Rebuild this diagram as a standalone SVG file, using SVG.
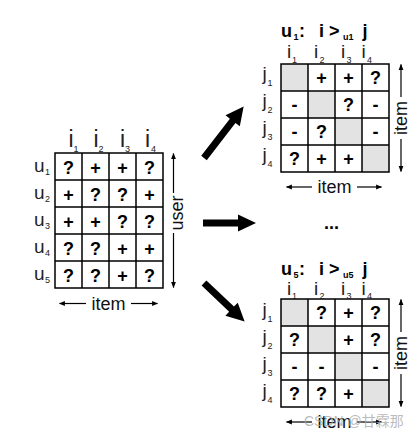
<svg xmlns="http://www.w3.org/2000/svg" width="418" height="437" viewBox="0 0 418 437">
<defs>
<style>
.grid{fill:none;stroke:#000;stroke-width:1.5}
.gray{fill:#e3e3e3}
.c{font-family:"Liberation Sans",Arial,sans-serif;font-weight:bold;font-size:18px;text-anchor:middle;fill:#000}
.lab{font-family:"Liberation Sans",Arial,sans-serif;font-size:19px;fill:#222}
.labt{font-family:"Liberation Sans",Arial,sans-serif;font-size:23px;fill:#222}
.sub{font-family:"Liberation Sans",Arial,sans-serif;font-size:9px;fill:#222}
.ttl{font-family:"Liberation Sans",Arial,sans-serif;font-weight:bold;font-size:18px;fill:#000}
.tsub{font-family:"Liberation Sans",Arial,sans-serif;font-weight:bold;font-size:9px;fill:#000}
.ax{font-family:"Liberation Sans",Arial,sans-serif;font-size:18px;fill:#111;text-anchor:middle}
.aline{stroke:#000;stroke-width:1.2;fill:none;marker-end:url(#ah)}
.big{fill:#000}
.wm{font-family:"Liberation Sans","Noto Sans CJK SC",sans-serif;font-size:14px;fill:#aaa;fill-opacity:0.8}
</style>
<marker id="ah" viewBox="0 0 10 10" refX="9" refY="5" markerWidth="6" markerHeight="6" markerUnits="userSpaceOnUse" orient="auto">
<path d="M0,1 L10,5 L0,9 z" fill="#000"/>
</marker>
</defs>

<!-- Left matrix: user x item -->
<g id="matrix-user-item">
<path class="grid" d="M55,153H163V288H55Z M82,153V288 M109,153V288 M136,153V288 M55,180H163 M55,207H163 M55,234H163 M55,261H163"/>
<g class="c">
<text x="68.5" y="173.5">?</text><text x="95.5" y="173.5">+</text><text x="122.5" y="173.5">+</text><text x="149.5" y="173.5">?</text>
<text x="68.5" y="200.5">+</text><text x="95.5" y="200.5">?</text><text x="122.5" y="200.5">?</text><text x="149.5" y="200.5">+</text>
<text x="68.5" y="227.5">+</text><text x="95.5" y="227.5">+</text><text x="122.5" y="227.5">?</text><text x="149.5" y="227.5">?</text>
<text x="68.5" y="254.5">?</text><text x="95.5" y="254.5">?</text><text x="122.5" y="254.5">+</text><text x="149.5" y="254.5">+</text>
<text x="68.5" y="281.5">?</text><text x="95.5" y="281.5">?</text><text x="122.5" y="281.5">+</text><text x="149.5" y="281.5">?</text>
</g>
<g class="labt">
<text x="68.5" y="147">i</text>
<text x="93.5" y="147">i</text>
<text x="120" y="147">i</text>
<text x="145" y="147">i</text>
</g>
<g class="lab">
<text x="34" y="172">u</text>
<text x="34" y="199">u</text>
<text x="34" y="226">u</text>
<text x="34" y="253">u</text>
<text x="34" y="280">u</text>
</g>
<g class="sub">
<text x="73.5" y="151.5">1</text><text x="98.5" y="151.5">2</text><text x="125" y="151.5">3</text><text x="151" y="151.5">4</text>
<text x="45" y="175">1</text><text x="45" y="202">2</text><text x="45" y="229">3</text><text x="45" y="256">4</text><text x="45" y="283">5</text>
</g>
<text class="ax" transform="translate(183,213) rotate(-90)">user</text>
<path class="aline" d="M173.5,193V153.5"/>
<path class="aline" d="M173.5,233V287.5"/>
<text class="ax" x="108.5" y="310">item</text>
<path class="aline" d="M86,303.5H59.5"/>
<path class="aline" d="M131,303.5H157.5"/>
</g>

<!-- Top right matrix u1 -->
<g id="matrix-u1">
<rect class="gray" x="281" y="64" width="27" height="27"/>
<rect class="gray" x="308" y="91" width="27" height="27"/>
<rect class="gray" x="335" y="118" width="27" height="27"/>
<rect class="gray" x="362" y="145" width="27" height="27"/>
<path class="grid" d="M281,64H389V172H281Z M308,64V172 M335,64V172 M362,64V172 M281,91H389 M281,118H389 M281,145H389"/>
<g class="c">
<text x="321.5" y="84">+</text><text x="348.5" y="84">+</text><text x="375.5" y="84">?</text>
<text x="294.5" y="111">-</text><text x="348.5" y="111">?</text><text x="375.5" y="111">-</text>
<text x="294.5" y="138">-</text><text x="321.5" y="138">?</text><text x="375.5" y="138">-</text>
<text x="294.5" y="165">?</text><text x="321.5" y="165">+</text><text x="348.5" y="165">+</text>
</g>
<text class="ttl" x="281" y="37">u</text><text class="tsub" x="293.5" y="40">1</text><text class="ttl" x="299" y="37">:</text>
<text class="ttl" x="319" y="37">i</text><text class="ttl" x="329" y="37">&gt;</text><text class="tsub" x="343" y="40">u1</text><text class="ttl" x="362.5" y="37">j</text>
<g class="lab">
<text x="287" y="58">i</text>
<text x="314" y="58">i</text>
<text x="341" y="58">i</text>
<text x="361.5" y="58">i</text>
<text x="262.5" y="80">j</text>
<text x="262.5" y="107">j</text>
<text x="262.5" y="134">j</text>
<text x="262.5" y="161">j</text>
</g>
<g class="sub">
<text x="292" y="62.5">1</text><text x="319.5" y="62.5">2</text><text x="346.5" y="62.5">3</text><text x="367" y="62.5">4</text>
<text x="267.5" y="86">1</text><text x="267.5" y="113">2</text><text x="267.5" y="140">3</text><text x="267.5" y="167">4</text>
</g>
<text class="ax" transform="translate(407,118) rotate(-90)">item</text>
<path class="aline" d="M401,97V64.5"/>
<path class="aline" d="M401,139V171.5"/>
<text class="ax" x="334.5" y="193">item</text>
<path class="aline" d="M312,187H286.5"/>
<path class="aline" d="M357,187H381.5"/>
</g>

<text id="ellipsis" class="ttl" x="331.5" y="229" text-anchor="middle" font-size="17">...</text>

<!-- Bottom right matrix u5 -->
<g id="matrix-u5">
<rect class="gray" x="281" y="299" width="27" height="27"/>
<rect class="gray" x="308" y="326" width="27" height="27"/>
<rect class="gray" x="335" y="353" width="27" height="27"/>
<rect class="gray" x="362" y="380" width="27" height="27"/>
<path class="grid" d="M281,299H389V407H281Z M308,299V407 M335,299V407 M362,299V407 M281,326H389 M281,353H389 M281,380H389"/>
<g class="c">
<text x="321.5" y="319">?</text><text x="348.5" y="319">+</text><text x="375.5" y="319">?</text>
<text x="294.5" y="346">?</text><text x="348.5" y="346">+</text><text x="375.5" y="346">?</text>
<text x="294.5" y="373">-</text><text x="321.5" y="373">-</text><text x="375.5" y="373">-</text>
<text x="294.5" y="400">?</text><text x="321.5" y="400">?</text><text x="348.5" y="400">+</text>
</g>
<text class="ttl" x="281" y="275">u</text><text class="tsub" x="293.5" y="278">5</text><text class="ttl" x="299" y="275">:</text>
<text class="ttl" x="319" y="275">i</text><text class="ttl" x="329" y="275">&gt;</text><text class="tsub" x="343" y="278">u5</text><text class="ttl" x="362.5" y="275">j</text>
<g class="lab">
<text x="287" y="295">i</text>
<text x="314" y="295">i</text>
<text x="341" y="295">i</text>
<text x="361.5" y="295">i</text>
<text x="262.5" y="316">j</text>
<text x="262.5" y="343">j</text>
<text x="262.5" y="370">j</text>
<text x="262.5" y="397">j</text>
</g>
<g class="sub">
<text x="292" y="299">1</text><text x="319.5" y="299">2</text><text x="346.5" y="299">3</text><text x="367" y="299">4</text>
<text x="267.5" y="322">1</text><text x="267.5" y="349">2</text><text x="267.5" y="376">3</text><text x="267.5" y="403">4</text>
</g>
<text class="ax" transform="translate(407,353) rotate(-90)">item</text>
<path class="aline" d="M401,332V299.5"/>
<path class="aline" d="M401,374V406.5"/>
<text class="ax" x="334.5" y="428">item</text>
<path class="aline" d="M312,422H286.5"/>
<path class="aline" d="M357,422H381.5"/>
</g>

<!-- Big arrows -->
<g id="connectors">
<g transform="translate(204,158) rotate(-52.4)"><path class="big" d="M0,-3.5H47V-9L65,0L47,9V3.5H0Z"/></g>
<g transform="translate(203,223) rotate(0)"><path class="big" d="M0,-3.5H35V-8.5L53,0L35,8.5V3.5H0Z"/></g>
<g transform="translate(204,283) rotate(43.5)"><path class="big" d="M0,-3.5H38V-9L56,0L38,9V3.5H0Z"/></g>
</g>

<text class="wm" x="304" y="426">CSDN @甘霖那</text>
</svg>
